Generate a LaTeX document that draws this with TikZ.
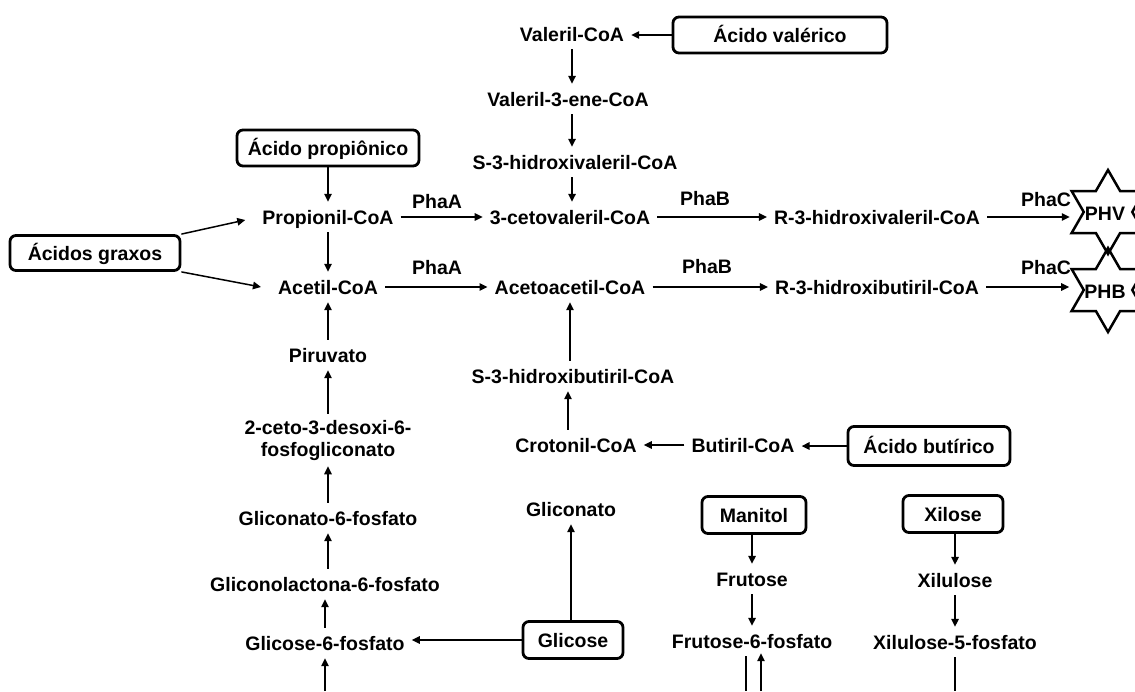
\documentclass[tikz,border=0pt]{standalone}
\usepackage{fontspec}
\setmainfont{Liberation Sans}
\usetikzlibrary{arrows.meta,calc}
\begin{document}
\begin{tikzpicture}[x=1pt,y=-1pt,
  font=\fontsize{19.5}{22.5}\selectfont\bfseries,
  lbl/.style={inner xsep=7pt, inner ysep=8pt, text height=14pt, text depth=0pt},
  box/.style={draw, line width=2.8pt, rounded corners=6pt, inner sep=0pt, text height=14pt, text depth=0pt, minimum height=36pt},
  enz/.style={inner sep=0pt, text height=14pt, text depth=0pt},
  arr/.style={line width=1.5pt, -{Triangle[length=8pt,width=7.5pt]}},
  ln/.style={line width=1.5pt},
  starline/.style={line width=2.5pt, line join=miter}
]
\clip (0,0) rectangle (1135,691);
\fill[white] (0,0) rectangle (1135,691);

% ---- top: valerate branch
\node[lbl] (valerilcoa) at (572,34) {Valeril-CoA};
\node[box, minimum width=214pt] (acvalerico) at (780,35) {Ácido valérico};
\node[lbl] (valeril3ene) at (568,99) {Valeril-3-ene-CoA};
\node[lbl] (s3hv) at (575,162) {S-3-hidroxivaleril-CoA};
\node[lbl] (cetoval) at (570,217) {3-cetovaleril-CoA};
\node[lbl] (r3hv) at (877,217) {R-3-hidroxivaleril-CoA};

% ---- propionate / acetyl
\node[box, minimum width=182pt] (acpropionico) at (328,148) {Ácido propiônico};
\node[lbl] (propionil) at (328,217) {Propionil-CoA};
\node[box, minimum width=170pt, minimum height=35pt] (graxos) at (95,253) {Ácidos graxos};
\node[lbl] (acetil) at (328,287) {Acetil-CoA};
\node[lbl] (acetoacetil) at (570,287) {Acetoacetil-CoA};
\node[lbl] (r3hb) at (877,287) {R-3-hidroxibutiril-CoA};

% enzyme labels
\node[enz] (phaA1) at (437,201) {PhaA};
\node[enz] (phaA2) at (437,267) {PhaA};
\node[enz] (phaB1) at (705,198) {PhaB};
\node[enz] (phaB2) at (707,266) {PhaB};
\node[enz] (phaC1) at (1046,199) {PhaC};
\node[enz] (phaC2) at (1046,267) {PhaC};

% stars
\coordinate (phvc) at (1108,212);
\coordinate (phbc) at (1108,290);
\foreach \c in {phvc,phbc}{
  \draw[starline] ($(\c)+(90:42)$) -- ($(\c)+(120:24.25)$) -- ($(\c)+(150:42)$)
    -- ($(\c)+(180:24.25)$) -- ($(\c)+(210:42)$) -- ($(\c)+(240:24.25)$)
    -- ($(\c)+(270:42)$) -- ($(\c)+(300:24.25)$) -- ($(\c)+(330:42)$)
    -- ($(\c)+(0:24.25)$) -- ($(\c)+(30:42)$) -- ($(\c)+(60:24.25)$) -- cycle;
}
\node[enz] (phv) at (1105,213) {PHV};
\node[enz] (phb) at (1105,291) {PHB};

% ---- left column (Entner-Doudoroff)
\node[lbl] (piruvato) at (328,355) {Piruvato};
\node[inner xsep=7pt, inner ysep=6pt, align=center, font=\fontsize{19.5}{22}\selectfont\bfseries] (ceto) at (328,440) {2-ceto-3-desoxi-6-\\fosfogliconato};
\node[lbl] (gliconato6) at (328,518) {Gliconato-6-fosfato};
\node[lbl] (gliconolactona) at (325,584) {Gliconolactona-6-fosfato};
\node[lbl] (glicose6) at (325,643) {Glicose-6-fosfato};
\coordinate (g6in) at (325,691);
\node[box, minimum width=100pt, minimum height=37pt] (glicose) at (573,640) {Glicose};
\node[lbl] (gliconato) at (571,509) {Gliconato};

% ---- butyrate branch
\node[lbl] (s3hb) at (573,376) {S-3-hidroxibutiril-CoA};
\node[lbl] (crotonil) at (576,445) {Crotonil-CoA};
\node[lbl] (butiril) at (743,445) {Butiril-CoA};
\node[box, minimum width=162pt, minimum height=39pt] (acbutirico) at (929,446) {Ácido butírico};

% ---- mannitol / xylose
\node[box, minimum width=104pt, minimum height=37pt] (manitol) at (754,515) {Manitol};
\node[lbl] (frutose) at (752,579) {Frutose};
\node[lbl] (frutose6) at (752,641) {Frutose-6-fosfato};
\coordinate (f6out) at (746,691);
\coordinate (f6in) at (761,691);
\node[box, minimum width=100pt, minimum height=37pt] (xilose) at (953,514) {Xilose};
\node[lbl] (xilulose) at (955,580) {Xilulose};
\node[lbl] (xilulose5) at (955,642) {Xilulose-5-fosfato};
\coordinate (x5out) at (955,691);

% ---- connectors
\draw[arr] (acvalerico.west) -- (valerilcoa.east |- acvalerico.west);
\draw[arr] (valerilcoa.south) -- (valeril3ene.north -| valerilcoa.south);
\draw[arr] (valeril3ene.south -| valerilcoa.south) -- (s3hv.north -| valerilcoa.south);
\draw[arr] (s3hv.south -| valerilcoa.south) -- (cetoval.north -| valerilcoa.south);

\draw[arr] (acpropionico.south) -- (propionil.north);
\draw[arr] (propionil.east) -- (cetoval.west |- propionil.east);
\draw[arr] (cetoval.east) -- (r3hv.west |- cetoval.east);
\draw[arr, shorten >=15pt] (r3hv.east) -- (r3hv.east -| phv.west);

\draw[arr] (graxos.north east) -- ([xshift=-10pt,yshift=-3pt]propionil.west);
\draw[arr] (graxos.south east) -- ([xshift=-10pt]acetil.west);
\draw[arr] (propionil.south) -- (acetil.north);
\draw[arr] (acetil.east) -- (acetoacetil.west |- acetil.east);
\draw[arr] (acetoacetil.east) -- (r3hb.west |- acetoacetil.east);
\draw[arr, shorten >=15pt] (r3hb.east) -- (r3hb.east -| phb.west);

\draw[arr] (piruvato.north) -- (acetil.south);
\draw[arr] (ceto.north) -- (piruvato.south);
\draw[arr] (gliconato6.north) -- (ceto.south);
\draw[arr] (gliconolactona.north -| gliconato6.south) -- (gliconato6.south);
\draw[arr] (glicose6.north) -- (gliconolactona.south -| glicose6.north);
\draw[arr] (g6in) -- (glicose6.south);
\draw[arr] (glicose.west) -- (glicose6.east |- glicose.west);
\draw[arr] (glicose.north -| gliconato.south) -- (gliconato.south);

\draw[arr] (s3hb.north -| acetoacetil.south) -- (acetoacetil.south);
\draw[arr] ([xshift=-8pt]crotonil.north) -- ([xshift=-8pt]s3hb.south -| crotonil.north);
\draw[arr] (butiril.west) -- (crotonil.east |- butiril.west);
\draw[arr] (acbutirico.west) -- (butiril.east |- acbutirico.west);

\draw[arr] (manitol.south -| frutose.north) -- (frutose.north);
\draw[arr] (frutose.south) -- (frutose6.north -| frutose.south);
\draw[ln] (frutose6.south -| f6out) -- (f6out);
\draw[arr] (f6in) -- ([yshift=3pt]frutose6.south -| f6in);

\draw[arr] (xilose.south -| xilulose.north) -- (xilulose.north);
\draw[arr] (xilulose.south) -- (xilulose5.north -| xilulose.south);
\draw[ln] (xilulose5.south -| x5out) -- (x5out);
\end{tikzpicture}
\end{document}
